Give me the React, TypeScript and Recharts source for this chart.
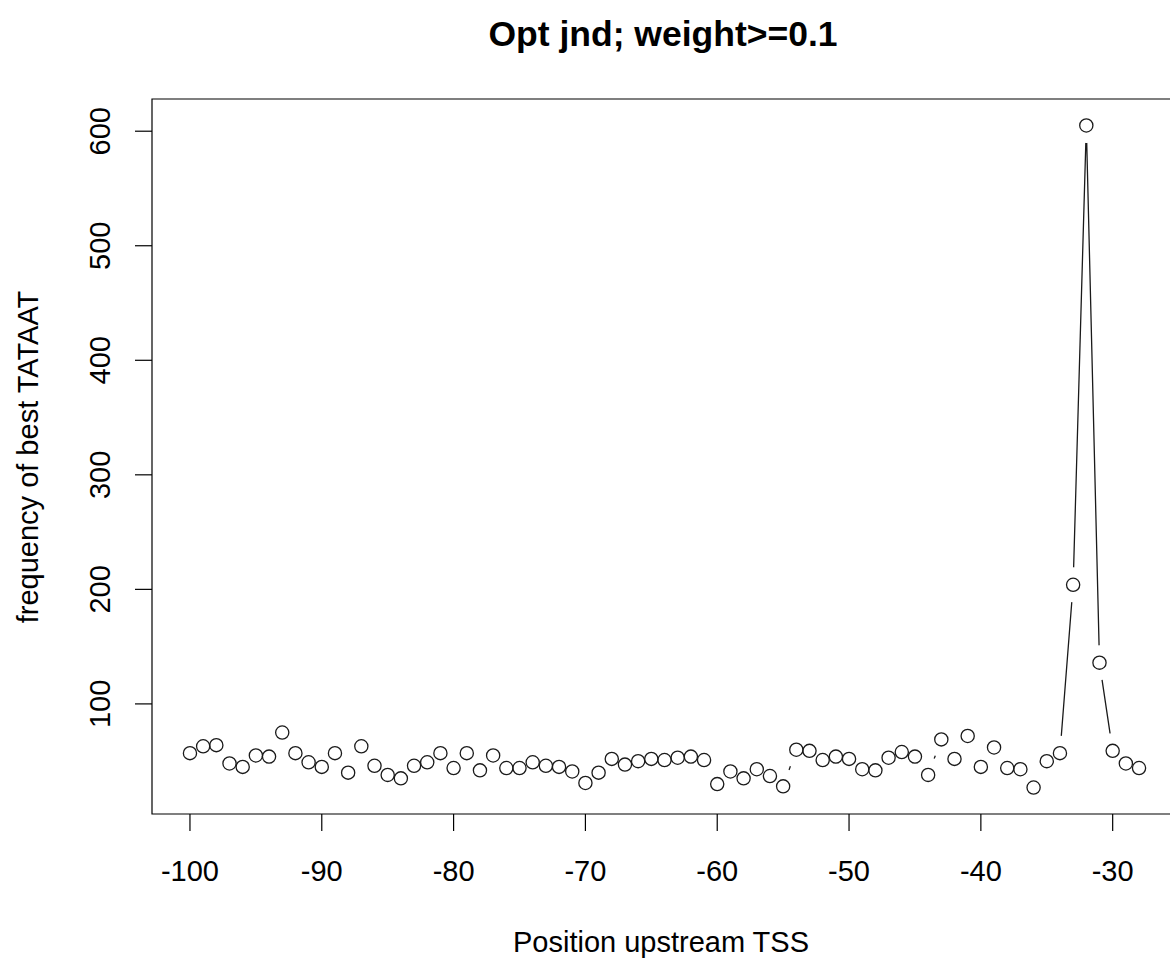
import React from "react";
import { ScatterChart, Scatter, XAxis, YAxis, ReferenceArea } from "recharts";

const positions = [
  -100, -99, -98, -97, -96, -95, -94, -93, -92, -91, -90, -89, -88, -87, -86,
  -85, -84, -83, -82, -81, -80, -79, -78, -77, -76, -75, -74, -73, -72, -71,
  -70, -69, -68, -67, -66, -65, -64, -63, -62, -61, -60, -59, -58, -57, -56,
  -55, -54, -53, -52, -51, -50, -49, -48, -47, -46, -45, -44, -43, -42, -41,
  -40, -39, -38, -37, -36, -35, -34, -33, -32, -31, -30, -29, -28,
];

const frequency = [
  57, 63, 64, 48, 45, 55, 54, 75, 57, 49, 45, 57, 40, 63, 46,
  38, 35, 46, 49, 57, 44, 57, 42, 55, 44, 44, 49, 46, 45, 41,
  31, 40, 52, 47, 50, 52, 51, 53, 54, 51, 30, 41, 35, 43, 37,
  28, 60, 59, 51, 54, 52, 43, 42, 53, 58, 54, 38, 69, 52, 72,
  45, 62, 44, 43, 27, 50, 57, 204, 605, 136, 59, 48, 44,
];

const xTicks = [-100, -90, -80, -70, -60, -50, -40, -30];
const yTicks = [100, 200, 300, 400, 500, 600];

const titel = "Opt jnd; weight>=0.1";
const xTitel = "Position upstream TSS";
const yTitel = "frequency of best TATAAT";

const FONT = '"Liberation Sans", Arial, Helvetica, sans-serif';

const punkte = positions.map((pos, i) => ({ pos, freq: frequency[i] }));

// R pads the data range by 4% on each side
function rRange(werte: number[]): [number, number] {
  const lo = Math.min(...werte);
  const hi = Math.max(...werte);
  const d = (hi - lo) * 0.04;
  return [lo - d, hi + d];
}

const xDomain = rRange(positions);
const yDomain = rRange(frequency);

function XTick(props: any) {
  const { x, y, payload } = props;
  return (
    <text x={x} y={y + 50} textAnchor="middle" fontFamily={FONT} fontSize={29} fill="#000">
      {payload.value}
    </text>
  );
}

function YTick(props: any) {
  const { x, y, payload } = props;
  const tx = x - 25;
  return (
    <text
      x={tx}
      y={y}
      textAnchor="middle"
      transform={`rotate(-90, ${tx}, ${y})`}
      fontFamily={FONT}
      fontSize={29}
      fill="#000"
    >
      {payload.value}
    </text>
  );
}

// white disc so the connecting line stops short of each point (R type="b")
const Luecke = (p: any) => <circle cx={p.cx} cy={p.cy} r={17.5} fill="#fff" />;
const Kreis = (p: any) => (
  <circle cx={p.cx} cy={p.cy} r={6.6} fill="none" stroke="#1a1a1a" strokeWidth={1.3} />
);
const Nichts = () => <g />;

export default function App() {
  return (
    <div
      style={{
        position: "absolute",
        left: 0,
        top: 0,
        width: 1170,
        height: 959,
        overflow: "hidden",
        background: "#fff",
      }}
    >
      <ScatterChart width={1200} height={959} margin={{ top: 99, right: 23, bottom: 0, left: 0 }}>
        <XAxis
          type="number"
          dataKey="pos"
          domain={xDomain}
          ticks={xTicks}
          interval={0}
          allowDataOverflow
          height={145}
          tickSize={17}
          tickMargin={0}
          axisLine={false}
          tickLine={{ stroke: "#000", strokeWidth: 1.2 }}
          tick={(p: any) => <XTick {...p} />}
        />
        <YAxis
          type="number"
          dataKey="freq"
          domain={yDomain}
          ticks={yTicks}
          interval={0}
          allowDataOverflow
          width={152}
          tickSize={17}
          tickMargin={0}
          axisLine={false}
          tickLine={{ stroke: "#000", strokeWidth: 1.2 }}
          tick={(p: any) => <YTick {...p} />}
        />
        <ReferenceArea
          x1={xDomain[0]}
          x2={xDomain[1]}
          y1={yDomain[0]}
          y2={yDomain[1]}
          fill="none"
          stroke="#000"
          strokeWidth={1.2}
        />
        <Scatter
          data={punkte}
          line={{ stroke: "#1a1a1a", strokeWidth: 1.3 }}
          lineType="joint"
          shape={Nichts}
          isAnimationActive={false}
        />
        <Scatter data={punkte} shape={Luecke} isAnimationActive={false} />
        <Scatter data={punkte} shape={Kreis} isAnimationActive={false} />
      </ScatterChart>
      <svg
        width={1170}
        height={959}
        style={{ position: "absolute", left: 0, top: 0, pointerEvents: "none" }}
      >
        <text x={663} y={46} textAnchor="middle" fontFamily={FONT} fontSize={35.5} fontWeight="bold" fill="#000">
          {titel}
        </text>
        <text x={661} y={952} textAnchor="middle" fontFamily={FONT} fontSize={29} fill="#000">
          {xTitel}
        </text>
        <text
          x={38}
          y={457}
          textAnchor="middle"
          transform="rotate(-90, 38, 457)"
          fontFamily={FONT}
          fontSize={29}
          fill="#000"
        >
          {yTitel}
        </text>
      </svg>
    </div>
  );
}
